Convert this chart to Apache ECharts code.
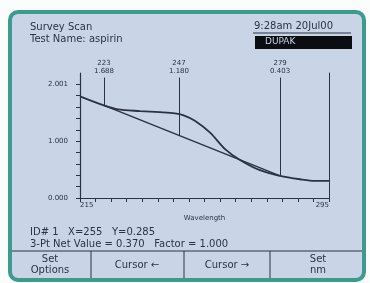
<!DOCTYPE html>
<html>
<head>
<meta charset="utf-8">
<script src="https://cdn.jsdelivr.net/npm/echarts@6/dist/echarts.min.js"></script>
<style>
  html, body { margin: 0; padding: 0; background: #fbfcfc; }
  #chart { width: 370px; height: 283px; }
</style>
</head>
<body>
<div id="chart"></div>
<script>
// scan curve (wavelength nm, absorbance)
var wavelength = [215, 222.7, 227.2, 234.3, 240.7, 245.5, 248.1, 251.9, 256.8, 261.6, 266.4, 272.8, 279.3, 285.7, 290.5, 295];
var absorbance = [1.79, 1.63, 1.56, 1.53, 1.51, 1.49, 1.46, 1.36, 1.15, 0.86, 0.67, 0.49, 0.39, 0.33, 0.30, 0.30];
// three cursor points
var cursorNm = [222.7, 246.8, 279.3];
var cursorAbs = [1.63, 1.10, 0.39];
var cursorText = ['223\n1.688', '247\n1.180', '279\n0.403'];
var yLabels = [0, 1, 2.001];
var xLabels = [215, 295];

var ink = '#2b3342';
var font = 'DejaVu Sans';

var chart = echarts.init(document.getElementById('chart'));

var curve = wavelength.map(function (w, i) { return [w, absorbance[i]]; });
var baseline = [[cursorNm[0], cursorAbs[0]], [cursorNm[2], cursorAbs[2]]];
var cursorLines = cursorNm.map(function (w, i) {
    return [
        { coord: [w, 2.12], label: { formatter: cursorText[i] } },
        { coord: [w, cursorAbs[i]] }
    ];
});

var yTicks = [];
for (var t = 0; t <= 2.0001; t += 0.2) yTicks.push(+t.toFixed(1));
var xTicks = [];
for (var x = 215; x <= 295; x += 5) xTicks.push(x);

chart.setOption({
    backgroundColor: '#fbfcfc',
    animation: false,
    graphic: [
        { type: 'rect', z: -10, shape: { x: 10, y: 12, width: 354, height: 268, r: 8 },
          style: { fill: '#c9d5e7', stroke: '#3d9b8e', lineWidth: 4 } },
        { type: 'text', left: 30, top: 21, style: { text: 'Survey Scan\nTest Name: aspirin', fill: ink, font: '10px ' + font, lineHeight: 12 } },
        { type: 'text', left: 254, top: 21, style: { text: '9:28am 20Jul00', fill: ink, font: '10px ' + font } },
        { type: 'line', shape: { x1: 253, y1: 33, x2: 351, y2: 33 }, style: { stroke: ink, lineWidth: 1 } },
        { type: 'rect', shape: { x: 255, y: 36, width: 97, height: 13 }, style: { fill: '#0c0d10' } },
        { type: 'text', left: 265, top: 37, style: { text: 'DUPAK', fill: '#c9d5e7', font: '9px ' + font } },
        { type: 'text', left: 30, top: 226, style: { text: 'ID# 1   X=255   Y=0.285\n3-Pt Net Value = 0.370   Factor = 1.000', fill: ink, font: '10px ' + font, lineHeight: 12 } },
        { type: 'line', shape: { x1: 12, y1: 251, x2: 362, y2: 251 }, style: { stroke: ink, lineWidth: 1 } },
        { type: 'line', shape: { x1: 91, y1: 251, x2: 91, y2: 278 }, style: { stroke: ink, lineWidth: 1 } },
        { type: 'line', shape: { x1: 184, y1: 251, x2: 184, y2: 278 }, style: { stroke: ink, lineWidth: 1 } },
        { type: 'line', shape: { x1: 270, y1: 251, x2: 270, y2: 278 }, style: { stroke: ink, lineWidth: 1 } },
        { type: 'text', x: 50, y: 265, style: { text: 'Set\nOptions', align: 'center', verticalAlign: 'middle', fill: ink, font: '10px ' + font, lineHeight: 11 } },
        { type: 'text', x: 137, y: 265, style: { text: 'Cursor \u2190', align: 'center', verticalAlign: 'middle', fill: ink, font: '10px ' + font } },
        { type: 'text', x: 227, y: 265, style: { text: 'Cursor \u2192', align: 'center', verticalAlign: 'middle', fill: ink, font: '10px ' + font } },
        { type: 'text', x: 318, y: 265, style: { text: 'Set\nnm', align: 'center', verticalAlign: 'middle', fill: ink, font: '10px ' + font, lineHeight: 11 } }
    ],
    grid: { left: 80, right: 41, top: 73, bottom: 85 },
    xAxis: {
        type: 'value', min: 215, max: 295,
        name: 'Wavelength', nameLocation: 'middle', nameGap: 17,
        nameTextStyle: { color: ink, fontSize: 7, fontFamily: font },
        axisLine: { lineStyle: { color: ink, width: 1.2 } },
        axisTick: { customValues: xTicks, length: 4, lineStyle: { color: ink } },
        axisLabel: { customValues: xLabels, color: ink, fontSize: 7, fontFamily: font, margin: 4, alignMinLabel: 'left', alignMaxLabel: 'right' },
        splitLine: { show: false }
    },
    yAxis: [{
        type: 'value', min: 0, max: 2.2,
        axisLine: { show: true, lineStyle: { color: ink, width: 1.2 } },
        axisTick: { show: true, customValues: yTicks, length: 4, lineStyle: { color: ink } },
        axisLabel: { customValues: yLabels, color: ink, fontSize: 7, fontFamily: font, margin: 12,
                     formatter: function (v) { return v.toFixed(3); } },
        splitLine: { show: false }
    }, {
        type: 'value', min: 0, max: 2.2, position: 'right',
        axisLine: { show: true, lineStyle: { color: ink, width: 1 } },
        axisTick: { show: false }, axisLabel: { show: false }, splitLine: { show: false }
    }],
    series: [{
        name: 'scan', type: 'line', data: curve, smooth: 0.3, symbol: 'none', clip: false,
        lineStyle: { color: ink, width: 1.8 },
        markLine: {
            symbol: 'none', silent: true,
            lineStyle: { color: ink, width: 1, type: 'solid' },
            label: { position: 'start', color: ink, fontSize: 7, fontFamily: font, lineHeight: 8, distance: 2 },
            data: cursorLines
        }
    }, {
        name: 'baseline', type: 'line', data: baseline, symbol: 'none',
        lineStyle: { color: ink, width: 1.5 }
    }]
});
</script>
</body>
</html>
